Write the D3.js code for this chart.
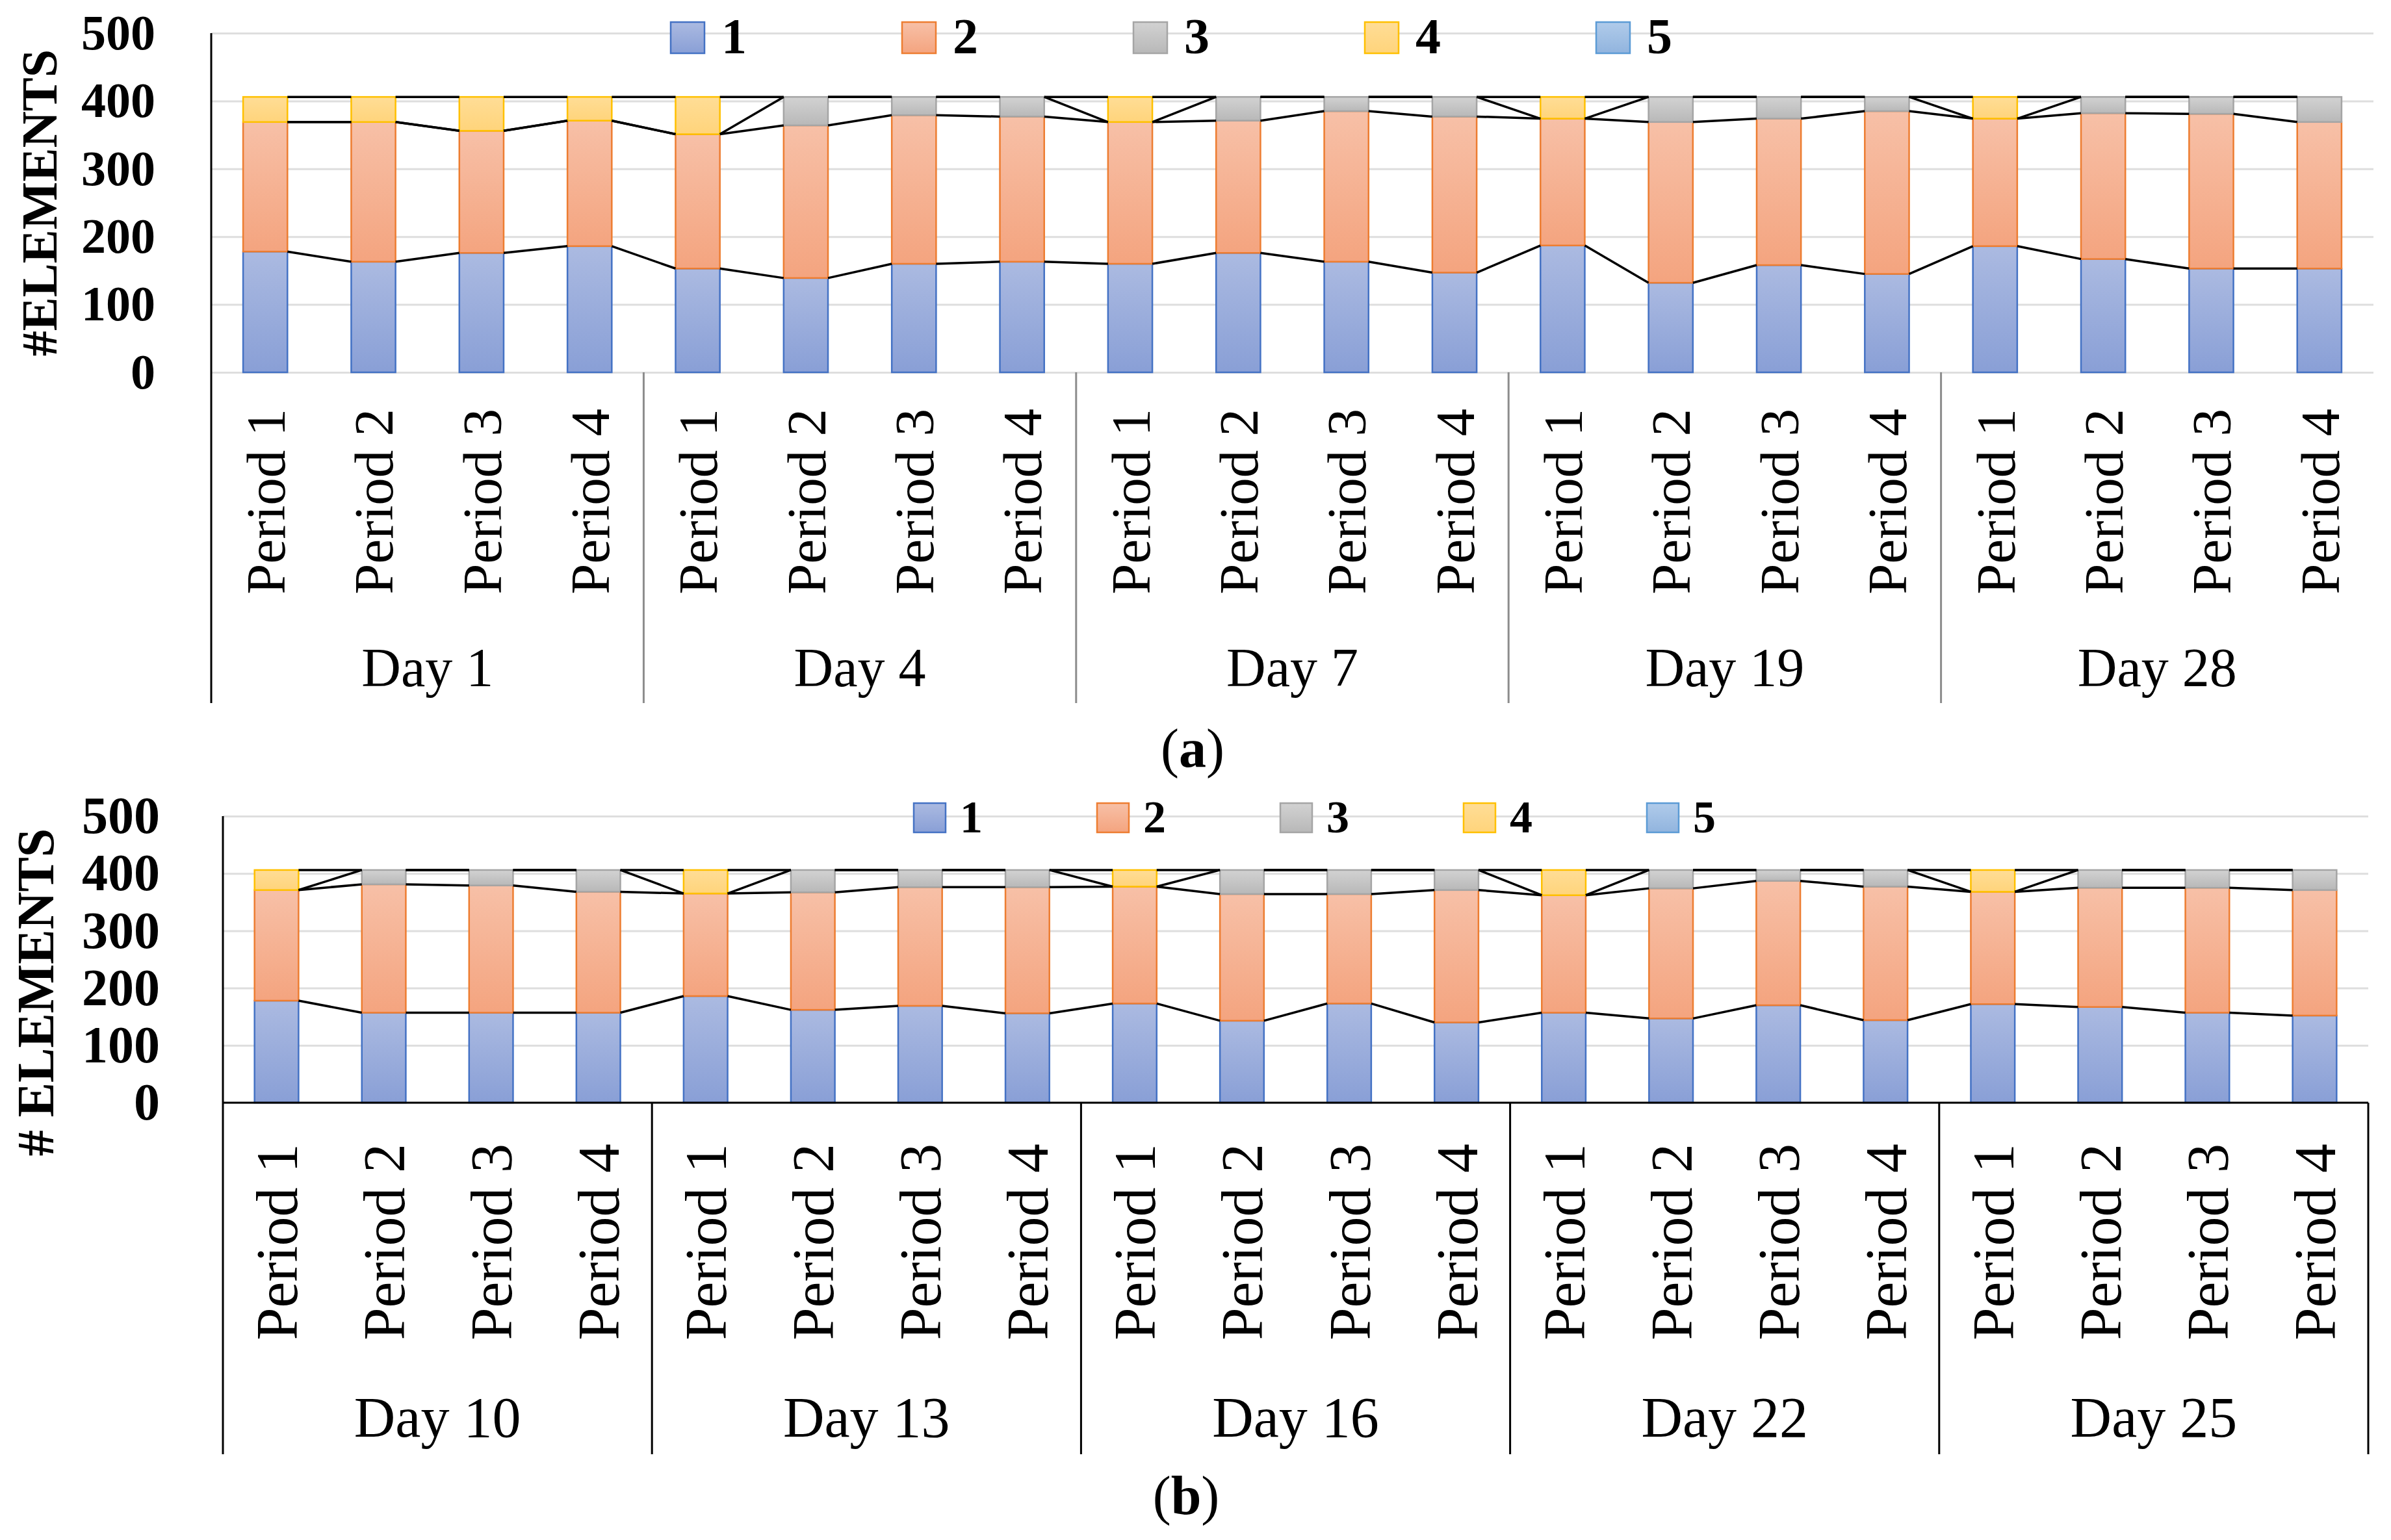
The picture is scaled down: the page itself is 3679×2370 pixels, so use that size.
<!DOCTYPE html>
<html>
<head>
<meta charset="utf-8">
<script src="https://cdn.jsdelivr.net/npm/d3@7"></script>
<style>
  body { margin: 0; background: #fff; }
  svg { display: block; }
</style>
</head>
<body>
<svg id="chart"></svg>
<script>
// series names (legend)
const series = ['1', '2', '3', '4', '5'];
const periods = ['Period 1', 'Period 2', 'Period 3', 'Period 4'];
const daysA = ['Day 1', 'Day 4', 'Day 7', 'Day 19', 'Day 28'];
const daysB = ['Day 10', 'Day 13', 'Day 16', 'Day 22', 'Day 25'];
const yTicks = [0, 100, 200, 300, 400, 500];

// panel (a) values, one per day/period
const a1 = [178, 163, 176, 186, 153, 139, 160, 163, 160, 176, 163, 147, 187, 132, 158, 145, 186, 167, 153, 153];
const a2 = [191, 206, 180, 185, 198, 225, 219, 214, 209, 195, 222, 230, 187, 237, 216, 240, 188, 215, 228, 216];
const a3 = [0, 0, 0, 0, 0, 42, 27, 29, 0, 35, 21, 29, 0, 37, 32, 21, 0, 24, 25, 37];
const a4 = [37, 37, 50, 35, 55, 0, 0, 0, 37, 0, 0, 0, 32, 0, 0, 0, 32, 0, 0, 0];
const a5 = [0, 0, 0, 0, 0, 0, 0, 0, 0, 0, 0, 0, 0, 0, 0, 0, 0, 0, 0, 0];

// panel (b) values
const b1 = [178, 157, 157, 157, 186, 162, 169, 156, 173, 143, 173, 140, 157, 147, 170, 144, 172, 167, 157, 152];
const b2 = [193, 224, 222, 211, 179, 205, 207, 220, 204, 221, 191, 231, 205, 227, 217, 233, 196, 208, 218, 219];
const b3 = [0, 25, 27, 38, 0, 39, 30, 30, 0, 42, 42, 35, 0, 32, 19, 29, 0, 31, 31, 35];
const b4 = [35, 0, 0, 0, 41, 0, 0, 0, 29, 0, 0, 0, 44, 0, 0, 0, 38, 0, 0, 0];
const b5 = [0, 0, 0, 0, 0, 0, 0, 0, 0, 0, 0, 0, 0, 0, 0, 0, 0, 0, 0, 0];

const W = 3679, H = 2370;
const svg = d3.select('#chart').attr('width', W).attr('height', H);

const fills = [
  { top: '#abbae1', bot: '#899fd6', stroke: '#4472c4' },
  { top: '#f7c0a7', bot: '#f4a47f', stroke: '#ed7d31' },
  { top: '#d2d2d2', bot: '#b8b8b8', stroke: '#a5a5a5' },
  { top: '#ffdd96', bot: '#ffd47b', stroke: '#ffc000' },
  { top: '#b0cbea', bot: '#91b4de', stroke: '#5b9bd5' }
];

const defs = svg.append('defs');
fills.forEach((f, i) => {
  const g = defs.append('linearGradient')
    .attr('id', 'grad' + i)
    .attr('x1', 0).attr('y1', 0).attr('x2', 0).attr('y2', 1);
  g.append('stop').attr('offset', '0%').attr('stop-color', f.top);
  g.append('stop').attr('offset', '100%').attr('stop-color', f.bot);
});

const serif = "'Palatino Linotype', 'Book Antiqua', 'Liberation Serif', serif";

function drawPanel(p) {
  const cats = [];
  p.days.forEach(d => periods.forEach(q => cats.push(d + '|' + q)));

  const x = d3.scaleBand()
    .domain(cats)
    .range([p.left, p.right])
    .paddingInner(0.59)
    .paddingOuter(0.295);

  const gx = d3.scaleBand()
    .domain(p.days)
    .range([p.left, p.right]);

  const y = d3.scaleLinear()
    .domain([0, 500])
    .range([p.bottom, p.top]);

  const g = svg.append('g');

  // gridlines
  g.append('g')
    .attr('transform', `translate(${p.left},0)`)
    .call(d3.axisLeft(y).tickValues(yTicks).tickSize(-(p.right - p.left)).tickFormat(''))
    .call(s => s.select('.domain').remove())
    .selectAll('line')
    .attr('stroke', '#dedede')
    .attr('stroke-width', 3);

  // stacked segments
  const rows = cats.map((c, i) => {
    const r = { cat: c };
    p.values.forEach((v, k) => r['s' + k] = v[i]);
    return r;
  });
  const stack = d3.stack().keys(series.map((s, k) => 's' + k))(rows);

  stack.forEach((layer, k) => {
    g.append('g')
      .selectAll('rect')
      .data(layer.filter(d => d[1] - d[0] > 0))
      .enter()
      .append('rect')
      .attr('x', d => x(d.data.cat))
      .attr('y', d => y(d[1]))
      .attr('width', x.bandwidth())
      .attr('height', d => y(d[0]) - y(d[1]))
      .attr('fill', `url(#grad${k})`)
      .attr('stroke', fills[k].stroke)
      .attr('stroke-width', 2.5);
  });

  // series lines joining the stack levels of neighbouring bars
  stack.slice(0, 4).forEach(layer => {
    const segs = d3.pairs(layer);
    g.append('g')
      .selectAll('line')
      .data(segs)
      .enter()
      .append('line')
      .attr('x1', d => x(d[0].data.cat) + x.bandwidth())
      .attr('y1', d => y(d[0][1]))
      .attr('x2', d => x(d[1].data.cat))
      .attr('y2', d => y(d[1][1]))
      .attr('stroke', '#000')
      .attr('stroke-width', 3.5);
  });

  // y axis labels
  g.append('g')
    .attr('transform', `translate(${p.left},0)`)
    .call(d3.axisLeft(y).tickValues(yTicks).tickSize(0).tickPadding(p.tickPad))
    .call(s => s.select('.domain').remove())
    .selectAll('text')
    .attr('font-family', serif)
    .attr('font-weight', 'bold')
    .attr('font-size', p.tickFont)
    .attr('fill', '#000');

  // left axis line
  g.append('line')
    .attr('x1', p.left).attr('x2', p.left)
    .attr('y1', p.top).attr('y2', p.catBottom)
    .attr('stroke', '#000').attr('stroke-width', 3);

  if (p.boxed) {
    g.append('line')
      .attr('x1', p.left).attr('x2', p.right)
      .attr('y1', p.bottom).attr('y2', p.bottom)
      .attr('stroke', '#000').attr('stroke-width', 3);
  }

  // group separators
  const seps = p.days.slice(1).map(d => gx(d));
  if (p.boxed) seps.push(p.right);
  g.append('g')
    .selectAll('line')
    .data(seps)
    .enter()
    .append('line')
    .attr('x1', d => d).attr('x2', d => d)
    .attr('y1', p.bottom).attr('y2', p.catBottom)
    .attr('stroke', p.sepColor).attr('stroke-width', 3);

  // period labels
  g.append('g')
    .selectAll('text')
    .data(cats)
    .enter()
    .append('text')
    .attr('transform', d => `translate(${x(d) + x.bandwidth() / 2},${p.periodTop}) rotate(-90)`)
    .attr('text-anchor', 'end')
    .attr('dy', '0.35em')
    .attr('font-family', serif)
    .attr('font-size', p.periodFont)
    .text(d => d.split('|')[1]);

  // day labels
  g.append('g')
    .selectAll('text')
    .data(p.days)
    .enter()
    .append('text')
    .attr('x', d => gx(d) + gx.bandwidth() / 2)
    .attr('y', p.dayBase)
    .attr('text-anchor', 'middle')
    .attr('font-family', serif)
    .attr('font-size', p.dayFont)
    .text(d => d);

  // y title
  g.append('text')
    .attr('transform', `translate(${p.titleX},${p.titleY}) rotate(-90)`)
    .attr('text-anchor', 'middle')
    .attr('dy', '0.35em')
    .attr('font-family', serif)
    .attr('font-weight', 'bold')
    .attr('font-size', p.titleFont)
    .text(p.title);

  // legend
  const lg = g.append('g')
    .selectAll('g')
    .data(series)
    .enter()
    .append('g')
    .attr('transform', (d, i) => `translate(${p.legX + i * p.legStep},${p.legY})`);
  lg.append('rect')
    .attr('width', p.sw).attr('height', p.sh)
    .attr('fill', (d, i) => `url(#grad${i})`)
    .attr('stroke', (d, i) => fills[i].stroke)
    .attr('stroke-width', 2.5);
  lg.append('text')
    .attr('x', p.legText)
    .attr('y', p.sh)
    .attr('font-family', serif)
    .attr('font-weight', 'bold')
    .attr('font-size', p.legFont)
    .text(d => d);

  // caption
  const cap = g.append('text')
    .attr('x', p.capX)
    .attr('y', p.capY)
    .attr('text-anchor', 'middle')
    .attr('font-family', serif)
    .attr('font-size', 84);
  cap.append('tspan').text('(');
  cap.append('tspan').attr('font-weight', 'bold').text(p.cap);
  cap.append('tspan').text(')');
}

drawPanel({
  days: daysA,
  values: [a1, a2, a3, a4, a5],
  left: 325, right: 3652, top: 51, bottom: 573, catBottom: 1082,
  boxed: false, sepColor: '#8c8c8c',
  tickPad: 86, tickFont: 76,
  periodTop: 629, periodFont: 85,
  dayBase: 1056, dayFont: 84,
  title: '#ELEMENTS', titleX: 60, titleY: 312, titleFont: 78,
  legX: 1032, legY: 34, legStep: 356, sw: 52, sh: 48, legText: 78, legFont: 78,
  cap: 'a', capX: 1835, capY: 1180
});

drawPanel({
  days: daysB,
  values: [b1, b2, b3, b4, b5],
  left: 343, right: 3644, top: 1256, bottom: 1697, catBottom: 2238,
  boxed: true, sepColor: '#000',
  tickPad: 97, tickFont: 80,
  periodTop: 1760, periodFont: 90,
  dayBase: 2211, dayFont: 88,
  title: '# ELEMENTS', titleX: 54, titleY: 1527, titleFont: 80,
  legX: 1406, legY: 1236, legStep: 282, sw: 49, sh: 45, legText: 71, legFont: 70,
  cap: 'b', capX: 1825, capY: 2330
});
</script>
</body>
</html>
